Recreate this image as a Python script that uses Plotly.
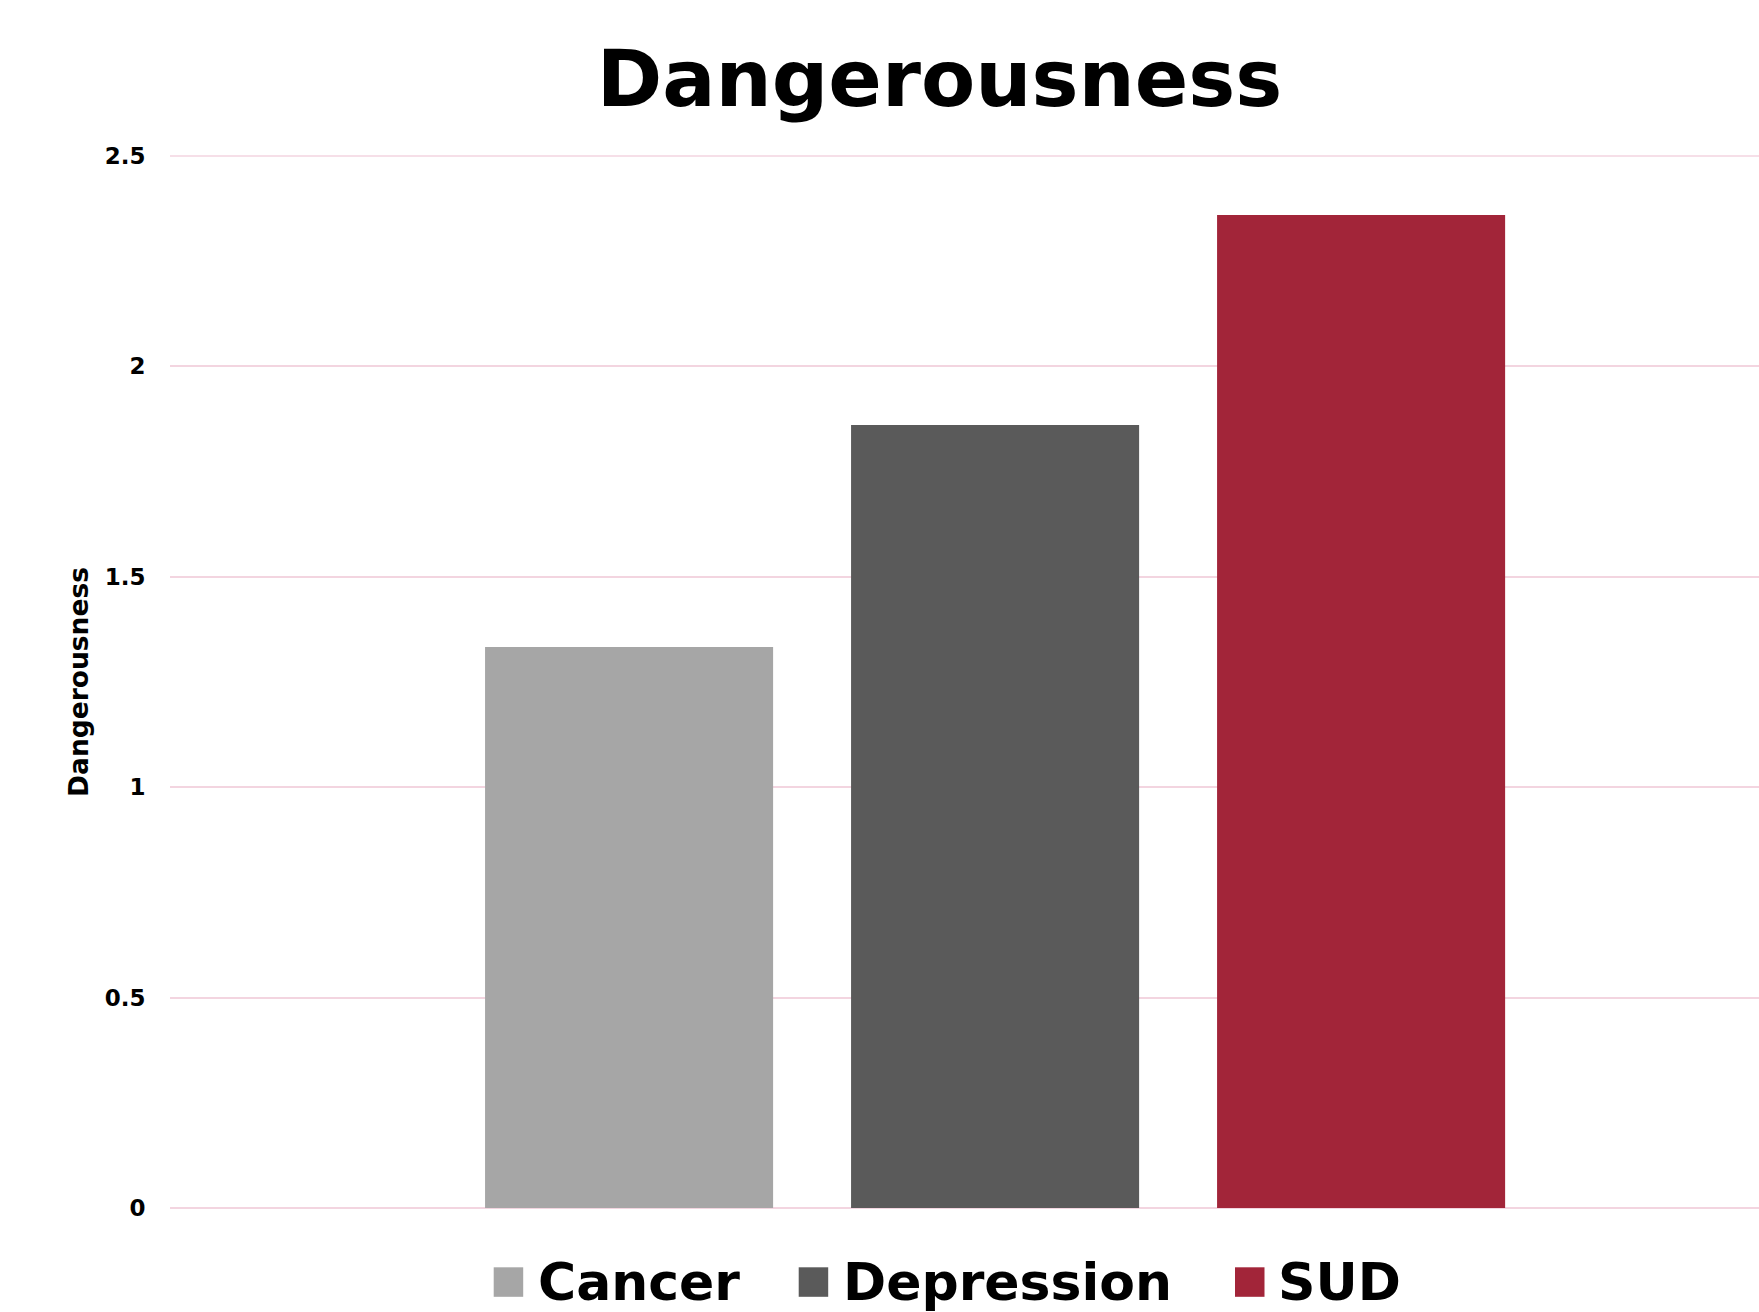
import plotly.graph_objects as go

# Mean dangerousness rating per condition
categories = ["Cancer", "Depression", "SUD"]
values = [1.333, 1.861, 2.36]
colors = ["#A6A6A6", "#5A5A5A", "#A22539"]
y_ticks = [0, 0.5, 1, 1.5, 2, 2.5]
y_tick_labels = ["0", "0.5", "1", "1.5", "2", "2.5"]

W, H = 1759, 1312
L, R, T, B = 170, 0, 156, 104
FONT = "DejaVu Sans"
GRID = "#F3D5E0"

fig = go.Figure()
for name, val, col in zip(categories, values, colors):
    fig.add_trace(go.Bar(
        x=[0], y=[val], name=name, marker=dict(color=col, line=dict(width=0)),
        offsetgroup=name, showlegend=False,
    ))


def px_to_paper_x(px):
    return (px - L) / (W - L - R)


def px_to_paper_y(py):
    return (H - B - py) / (H - T - B)


# Top gridline sits on the upper edge of the plot area
shapes = [dict(
    type="line", xref="paper", yref="paper", x0=0, x1=1, y0=1, y1=1,
    line=dict(color=GRID, width=1.5), layer="below",
)]

# Custom legend with large square swatches
legend_items = [(493.7, 538.5), (798.7, 843.6), (1235.0, 1279.0)]
sq = 29.5
annotations = []
for (sx, tx), name, col in zip(legend_items, categories, colors):
    shapes.append(dict(
        type="rect", xref="paper", yref="paper",
        x0=px_to_paper_x(sx), x1=px_to_paper_x(sx + sq),
        y0=px_to_paper_y(1267.3), y1=px_to_paper_y(1267.3 + sq),
        fillcolor=col, line=dict(width=0), layer="above",
    ))
    annotations.append(dict(
        text=f"<b>{name}</b>", xref="paper", yref="paper",
        x=px_to_paper_x(tx - 3), y=px_to_paper_y(1281.5),
        xanchor="left", yanchor="middle", showarrow=False,
        font=dict(family=FONT, size=52, color="#000000"),
    ))

fig.update_layout(
    width=W, height=H,
    margin=dict(l=L, r=R, t=T, b=B, autoexpand=False),
    paper_bgcolor="white", plot_bgcolor="white",
    barmode="group", bargap=0.3, bargroupgap=0.213,
    title=dict(
        text="<b>Dangerousness</b>", xref="container", yref="container",
        x=939.5 / W, xanchor="center", y=1 - 51 / H, yanchor="top",
        font=dict(family=FONT, size=79, color="#000000"),
    ),
    xaxis=dict(
        range=[-0.526, 0.487], showticklabels=False, showgrid=False,
        zeroline=False, showline=False, fixedrange=True,
    ),
    yaxis=dict(
        range=[0, 2.5], tickvals=y_ticks, ticktext=y_tick_labels,
        showgrid=True, gridcolor=GRID, gridwidth=1.5,
        zeroline=True, zerolinecolor=GRID, zerolinewidth=1.5,
        showline=False, ticks="outside", ticklen=19,
        tickcolor="rgba(0,0,0,0)",
        tickfont=dict(family=FONT, size=23, color="#000000", weight="bold"),
        title=dict(text="<b>Dangerousness</b>", standoff=8,
                   font=dict(family=FONT, size=26.5, color="#000000")),
    ),
    shapes=shapes, annotations=annotations,
    font=dict(family=FONT),
)

fig.write_html("out.html")
